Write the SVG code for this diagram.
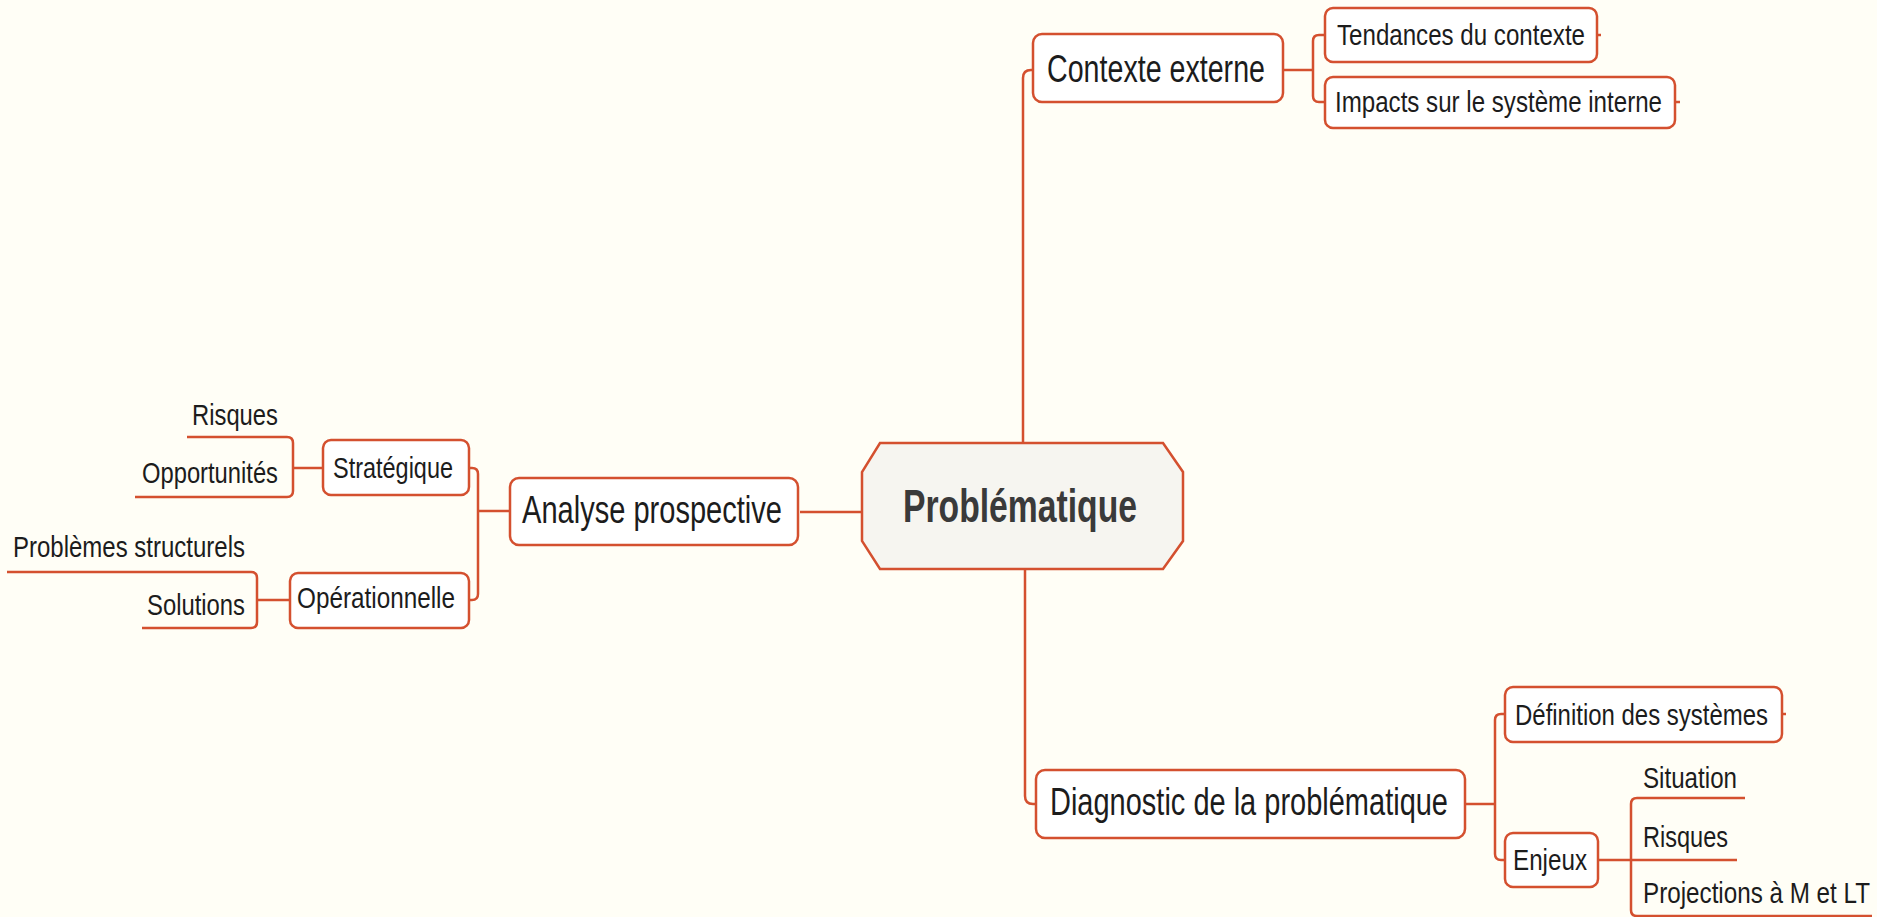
<svg xmlns="http://www.w3.org/2000/svg" width="1877" height="917" viewBox="0 0 1877 917">
<style>
.bg{fill:#fffef6}
.box{fill:#ffffff;stroke:#d4502f;stroke-width:2.5}
.center{fill:#f6f5f0;stroke:#d4502f;stroke-width:2.5}
.ln{fill:none;stroke:#d4502f;stroke-width:2.5}
.t{font-family:"Liberation Sans",Arial,sans-serif;fill:#1c1c1c}
.l1{font-size:38px}
.l2{font-size:30px}
.ct{font-family:"Liberation Sans",Arial,sans-serif;font-weight:bold;font-size:46px;fill:#3a3a3a}
</style>
<rect class="bg" x="0" y="0" width="1877" height="917"/>
<g id="connectors">
<path class="ln" d="M1023,443 V78 Q1023,70 1031,70 H1033"/>
<path class="ln" d="M1025,570 V796 Q1025,804 1033,804 H1036"/>
<path class="ln" d="M1283,70 H1313"/>
<path class="ln" d="M1325,35 H1319 Q1313,35 1313,41 V96 Q1313,102 1319,102 H1325"/>
<path class="ln" d="M1597,35 H1601"/>
<path class="ln" d="M1675,102 H1680"/>
<path class="ln" d="M800,512 H862"/>
<path class="ln" d="M510,511 H478"/>
<path class="ln" d="M469,468 H472 Q478,468 478,474 V594 Q478,600 472,600 H469"/>
<path class="ln" d="M323,468 H293"/>
<path class="ln" d="M187,437 H287 Q293,437 293,443 V491 Q293,497 287,497 H135"/>
<path class="ln" d="M290,600 H257"/>
<path class="ln" d="M7,572 H251 Q257,572 257,578 V622 Q257,628 251,628 H142"/>
<path class="ln" d="M1465,804 H1495"/>
<path class="ln" d="M1505,714 H1501 Q1495,714 1495,720 V854 Q1495,860 1501,860 H1505"/>
<path class="ln" d="M1782,714 H1786"/>
<path class="ln" d="M1598,860 H1737"/>
<path class="ln" d="M1745,798 H1637 Q1631,798 1631,804 V910 Q1631,916 1637,916 H1872"/>
</g>
<g id="problematique">
<polygon class="center" points="880,443 1163,443 1183,472 1183,541 1163,569 880,569 862,541 862,472"/>
<text class="ct" x="1020" y="522" text-anchor="middle" textLength="234" lengthAdjust="spacingAndGlyphs">Problématique</text>
</g>
<g id="contexte-externe">
<rect class="box" x="1033" y="34" width="250" height="68" rx="9"/>
<text class="t l1" x="1047" y="82" textLength="218" lengthAdjust="spacingAndGlyphs">Contexte externe</text>
</g>
<g id="tendances">
<rect class="box" x="1325" y="8" width="272" height="54" rx="8"/>
<text class="t l2" x="1337" y="45" textLength="248" lengthAdjust="spacingAndGlyphs">Tendances du contexte</text>
</g>
<g id="impacts">
<rect class="box" x="1325" y="77" width="350" height="51" rx="8"/>
<text class="t l2" x="1335" y="112" textLength="327" lengthAdjust="spacingAndGlyphs">Impacts sur le système interne</text>
</g>
<g id="analyse-prospective">
<rect class="box" x="510" y="478" width="288" height="67" rx="9"/>
<text class="t l1" x="522" y="523" textLength="260" lengthAdjust="spacingAndGlyphs">Analyse prospective</text>
</g>
<g id="strategique">
<rect class="box" x="323" y="440" width="146" height="55" rx="8"/>
<text class="t l2" x="333" y="478" textLength="120" lengthAdjust="spacingAndGlyphs">Stratégique</text>
</g>
<g id="operationnelle">
<rect class="box" x="290" y="573" width="179" height="55" rx="8"/>
<text class="t l2" x="297" y="608" textLength="158" lengthAdjust="spacingAndGlyphs">Opérationnelle</text>
</g>
<g id="risques-strat">
<text class="t l2" x="192" y="425" textLength="86" lengthAdjust="spacingAndGlyphs">Risques</text>
</g>
<g id="opportunites">
<text class="t l2" x="142" y="483" textLength="136" lengthAdjust="spacingAndGlyphs">Opportunités</text>
</g>
<g id="problemes-structurels">
<text class="t l2" x="13" y="557" textLength="232" lengthAdjust="spacingAndGlyphs">Problèmes structurels</text>
</g>
<g id="solutions">
<text class="t l2" x="147" y="615" textLength="98" lengthAdjust="spacingAndGlyphs">Solutions</text>
</g>
<g id="diagnostic">
<rect class="box" x="1036" y="770" width="429" height="68" rx="9"/>
<text class="t l1" x="1050" y="815" textLength="398" lengthAdjust="spacingAndGlyphs">Diagnostic de la problématique</text>
</g>
<g id="definition">
<rect class="box" x="1505" y="687" width="277" height="55" rx="8"/>
<text class="t l2" x="1515" y="725" textLength="253" lengthAdjust="spacingAndGlyphs">Définition des systèmes</text>
</g>
<g id="enjeux">
<rect class="box" x="1505" y="833" width="93" height="54" rx="8"/>
<text class="t l2" x="1513" y="870" textLength="74" lengthAdjust="spacingAndGlyphs">Enjeux</text>
</g>
<g id="situation">
<text class="t l2" x="1643" y="788" textLength="94" lengthAdjust="spacingAndGlyphs">Situation</text>
</g>
<g id="risques-enjeux">
<text class="t l2" x="1643" y="847" textLength="85" lengthAdjust="spacingAndGlyphs">Risques</text>
</g>
<g id="projections">
<text class="t l2" x="1643" y="903" textLength="227" lengthAdjust="spacingAndGlyphs">Projections à M et LT</text>
</g>
</svg>
